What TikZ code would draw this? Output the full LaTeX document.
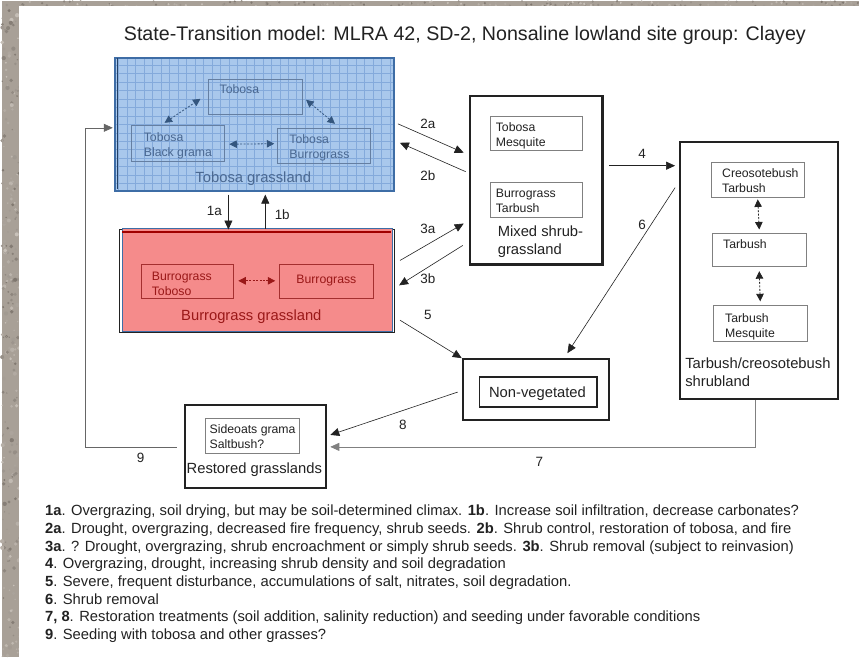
\documentclass[tikz,border=0pt]{standalone}
\usepackage{fontspec}
\setmainfont{Liberation Sans}
\usetikzlibrary{arrows.meta,calc}
\definecolor{bg}{HTML}{A8A097}
\definecolor{bgdark}{HTML}{7E766E}
\definecolor{bglight}{HTML}{C9C2BA}
\definecolor{blfill}{HTML}{A9C8EC}
\definecolor{blline}{HTML}{3E6DA6}
\definecolor{blgrid}{HTML}{84AADB}
\definecolor{bltext}{HTML}{4A6891}
\definecolor{blarrow}{HTML}{34567E}
\definecolor{rdfill}{HTML}{F58B8B}
\definecolor{rdtext}{HTML}{9A1818}
\definecolor{rddark}{HTML}{A00000}
\definecolor{ink}{HTML}{222222}
\begin{document}
\begin{tikzpicture}[x=1pt,y=-1pt,
  statebox/.style={draw=ink, line width=2.2pt, inner sep=0pt, anchor=north west},
  subbox/.style={draw=black!50, line width=0.8pt, inner sep=0pt, anchor=north west},
  txt/.style={font=\fontsize{12.3}{15}\selectfont, align=left, anchor=base west, inner sep=0pt, text=ink},
  big/.style={font=\fontsize{14.8}{17.8}\selectfont, align=left, anchor=base west, inner sep=0pt, text=ink},
  num/.style={font=\fontsize{13.5}{13.5}\selectfont, inner sep=0pt, text=ink},
  foot/.style={font=\fontsize{14.8}{17.7}\selectfont, anchor=base west, inner sep=0pt, text=ink},
  tr/.style={-{Triangle[length=9pt,width=8pt]}, line width=0.6pt, draw=ink},
  dbl/.style={{Triangle[length=7.5pt,width=7.5pt]}-{Triangle[length=7.5pt,width=7.5pt]}, line width=0.8pt, dash pattern=on 2pt off 1.5pt},
]
% background (granite-like border)
\fill[bg] (0,0) rectangle (859,658);
\pgfmathsetseed{42}
\foreach \i in {1,...,260}{
  \pgfmathsetmacro{\px}{rnd*17}
  \pgfmathsetmacro{\py}{rnd*658}
  \pgfmathsetmacro{\pr}{0.6+rnd*1.6}
  \pgfmathsetmacro{\pc}{rnd*100}
  \fill[bgdark!\pc!bglight] (\px,\py) circle[radius=\pr pt];
}
\foreach \i in {1,...,200}{
  \pgfmathsetmacro{\px}{17+rnd*842}
  \pgfmathsetmacro{\py}{rnd*5}
  \pgfmathsetmacro{\pc}{rnd*100}
  \fill[bgdark!\pc!bglight] (\px,\py) circle[radius=1.2pt];
}
\fill[white] (17,5) rectangle (859,658);
\useasboundingbox (0,0) rectangle (859,658);

% title
\node[font=\fontsize{19.7}{22}\selectfont, anchor=base west, inner sep=0pt, text=ink] (title) at (122,39) {State-Transition model: MLRA 42, SD-2, Nonsaline lowland site group: Clayey};

% ---------- Tobosa grassland (blue) ----------
\node[draw=blline, line width=2pt, fill=blfill, minimum width=280pt, minimum height=133pt, inner sep=0pt, anchor=north west,
  path picture={\draw[blgrid, line width=0.5pt, step=8.5pt] (path picture bounding box.south west) grid (path picture bounding box.north east);}]
  (tobosa) at (112,56) {};
\draw[blline!60!black, line width=1pt] (115.5,57) -- (115.5,188);
\node[draw=bltext!85, line width=0.9pt, inner sep=0pt, anchor=north west, minimum width=94pt, minimum height=35pt] (tb1) at (207,78) {};
\node[draw=bltext!85, line width=0.9pt, inner sep=0pt, anchor=north west, minimum width=94pt, minimum height=36pt] (tb2) at (129,124) {};
\node[draw=bltext!85, line width=0.9pt, inner sep=0pt, anchor=north west, minimum width=93pt, minimum height=35pt] (tb3) at (276,127) {};
\node[txt, text=bltext] (tb1t) at (218,93) {Tobosa};
\node[txt, text=bltext] (tb2t) at (142,156) {Tobosa\\Black grama};
\node[txt, text=bltext] (tb3t) at (288,158) {Tobosa\\Burrograss};
\node[big, text=bltext, anchor=base] (tobosalbl) at (252,182) {Tobosa grassland};
\draw[dbl, blarrow] ($(tb2.north west)+(34,-2)$) -- ($(tb1.south west)+(-8,-16)$);
\draw[dbl, blarrow] ($(tb1.south east)+(3,-15)$) -- ($(tb3.north east)+(-36,-4)$);
\draw[dbl, blarrow] ($(tb2.east)+(4,1)$) -- ($(tb3.west)+(-3,-2)$);

% ---------- Burrograss grassland (red) ----------
\draw[ink, line width=1.2pt] (118,229) rectangle (393.5,332);
\node[draw=blline, line width=1.2pt, fill=rdfill, minimum width=271pt, minimum height=104pt, inner sep=0pt, anchor=north west] (burro) at (120,227) {};
\draw[rddark, line width=2pt] (120.6,231.5) -- (390.4,231.5);
\node[draw=rdtext!90, line width=0.9pt, inner sep=0pt, anchor=north west, minimum width=93pt, minimum height=34pt] (rb1) at (139,264) {};
\node[draw=rdtext!90, line width=0.9pt, inner sep=0pt, anchor=north west, minimum width=94pt, minimum height=34pt] (rb2) at (278,264) {};
\node[txt, text=rdtext] (rb1t) at (150,295) {Burrograss\\Toboso};
\node[txt, text=rdtext] (rb2t) at (295,283) {Burrograss};
\node[big, text=rdtext, anchor=base] (burrolbl) at (250,320) {Burrograss grassland};
\draw[dbl, rdtext] ($(rb1.east)+(4,-1)$) -- ($(rb2.west)+(-4,-1)$);

% ---------- Mixed shrub-grassland ----------
\node[statebox, minimum width=133pt, minimum height=169pt] (mixed) at (468,94) {};
\node[subbox, minimum width=93pt, minimum height=34pt] (mb1) at (489,115) {};
\node[subbox, minimum width=93pt, minimum height=35pt] (mb2) at (489,181) {};
\node[txt] (mb1t) at (495,146) {Tobosa\\Mesquite};
\node[txt] (mb2t) at (495,212) {Burrograss\\Tarbush};
\node[big] (mixedlbl) at (497,254) {Mixed shrub-\\grassland};

% ---------- Tarbush/creosotebush shrubland ----------
\node[statebox, minimum width=158pt, minimum height=258pt] (tarbush) at (679,140) {};
\node[subbox, minimum width=93pt, minimum height=35pt] (sb1) at (711,161) {};
\node[subbox, minimum width=94pt, minimum height=34pt] (sb2) at (712,232) {};
\node[subbox, minimum width=94pt, minimum height=36pt] (sb3) at (713,305) {};
\node[txt] (sb1t) at (722,192) {Creosotebush\\Tarbush};
\node[txt] (sb2t) at (723,248) {Tarbush};
\node[txt] (sb3t) at (725,337) {Tarbush\\Mesquite};
\node[big] (tarbushlbl) at (685,386) {Tarbush/creosotebush\\shrubland};
\draw[dbl, ink] ($(sb1.south)+(0,2)$) -- ($(sb2.north)+(0,-3)$);
\draw[dbl, ink] ($(sb2.south)+(0,4)$) -- ($(sb3.north)+(0,-4)$);

% ---------- Non-vegetated ----------
\node[statebox, minimum width=147pt, minimum height=61pt] (nonveg) at (461,358) {};
\node[draw=ink, line width=1.6pt, inner sep=0pt, anchor=north west, minimum width=118pt, minimum height=30pt] (nvin) at (478,376) {};
\node[big, anchor=base] (nvt) at (537,397) {Non-vegetated};

% ---------- Restored grasslands ----------
\node[statebox, minimum width=142pt, minimum height=83pt] (restored) at (182,404) {};
\node[subbox, minimum width=94pt, minimum height=35pt] (rg1) at (204,418) {};
\node[txt] (rg1t) at (208,449) {Sideoats grama\\Saltbush?};
\node[big, anchor=base] (rglbl) at (253,474) {Restored grasslands};

% ---------- transitions ----------
% 1a / 1b
\draw[tr] ($(tobosa.south west)+(115,3)$) -- ($(burro.north west)+(107,2)$);
\draw[tr] ($(burro.north west)+(144,1)$) -- ($(tobosa.south west)+(152,3)$);
\node[num] (n1a) at (213,210) {1a};
\node[num] (n1b) at (281,214) {1b};
% 2a / 2b
\draw[tr] ($(tobosa.north east)+(3,67)$) -- ($(mixed.north west)+(-5,58)$);
\draw[tr] ($(mixed.north west)+(-3,77)$) -- ($(tobosa.north east)+(5,86)$);
\node[num] (n2a) at (427,123) {2a};
\node[num] (n2b) at (427,175) {2b};
% 3a / 3b
\draw[tr] ($(burro.north east)+(7,33)$) -- ($(mixed.north west)+(-5,129)$);
\draw[tr] ($(mixed.north west)+(-6,151)$) -- ($(burro.north east)+(6,58)$);
\node[num] (n3a) at (427,228) {3a};
\node[num] (n3b) at (427,278) {3b};
% 4
\draw[tr] ($(mixed.north east)+(6,71)$) -- ($(tarbush.north west)+(-4,25)$);
\node[num] (n4) at (642,153) {4};
% 5
\draw[tr] ($(burro.north east)+(7,93)$) -- (nonveg.north west);
\node[num] (n5) at (427,315) {5};
% 6
\draw[tr] ($(tarbush.north west)+(-4,47)$) -- ($(nonveg.north west)+(106,-5)$);
\node[num] (n6) at (642,224) {6};
% 7
\draw[tr, draw=black!50] ($(tarbush.south west)+(76,0)$) |- ($(restored.north east)+(3,43)$);
\node[num] (n7) at (539,462) {7};
% 8
\draw[tr] ($(nonveg.north west)+(-4,34)$) -- ($(restored.north east)+(3,31)$);
\node[num] (n8) at (402,425) {8};
% 9
\coordinate (c9) at (83,447);
\draw[tr, draw=black!60] ($(restored.north west)+(-7,43)$) -- (c9) |- ($(tobosa.north west)+(-1,71)$);
\node[num] (n9) at (139,458) {9};

% ---------- legend ----------
\node[foot] (f1) at (43,516) {\textbf{1a}. Overgrazing, soil drying, but may be soil-determined climax. \textbf{1b}. Increase soil infiltration, decrease carbonates?};
\node[foot] (f2) at (43,534) {\textbf{2a}. Drought, overgrazing, decreased fire frequency, shrub seeds. \textbf{2b}. Shrub control, restoration of tobosa, and fire};
\node[foot] (f3) at (43,551.5) {\textbf{3a}. ? Drought, overgrazing, shrub encroachment or simply shrub seeds. \textbf{3b}. Shrub removal (subject to reinvasion)};
\node[foot] (f4) at (43,569) {\textbf{4}. Overgrazing, drought, increasing shrub density and soil degradation};
\node[foot] (f5) at (43,587) {\textbf{5}. Severe, frequent disturbance, accumulations of salt, nitrates, soil degradation.};
\node[foot] (f6) at (43,605) {\textbf{6}. Shrub removal};
\node[foot] (f7) at (43,622) {\textbf{7, 8}. Restoration treatments (soil addition, salinity reduction) and seeding under favorable conditions};
\node[foot] (f8) at (43,640) {\textbf{9}. Seeding with tobosa and other grasses?};
\end{tikzpicture}
\end{document}
